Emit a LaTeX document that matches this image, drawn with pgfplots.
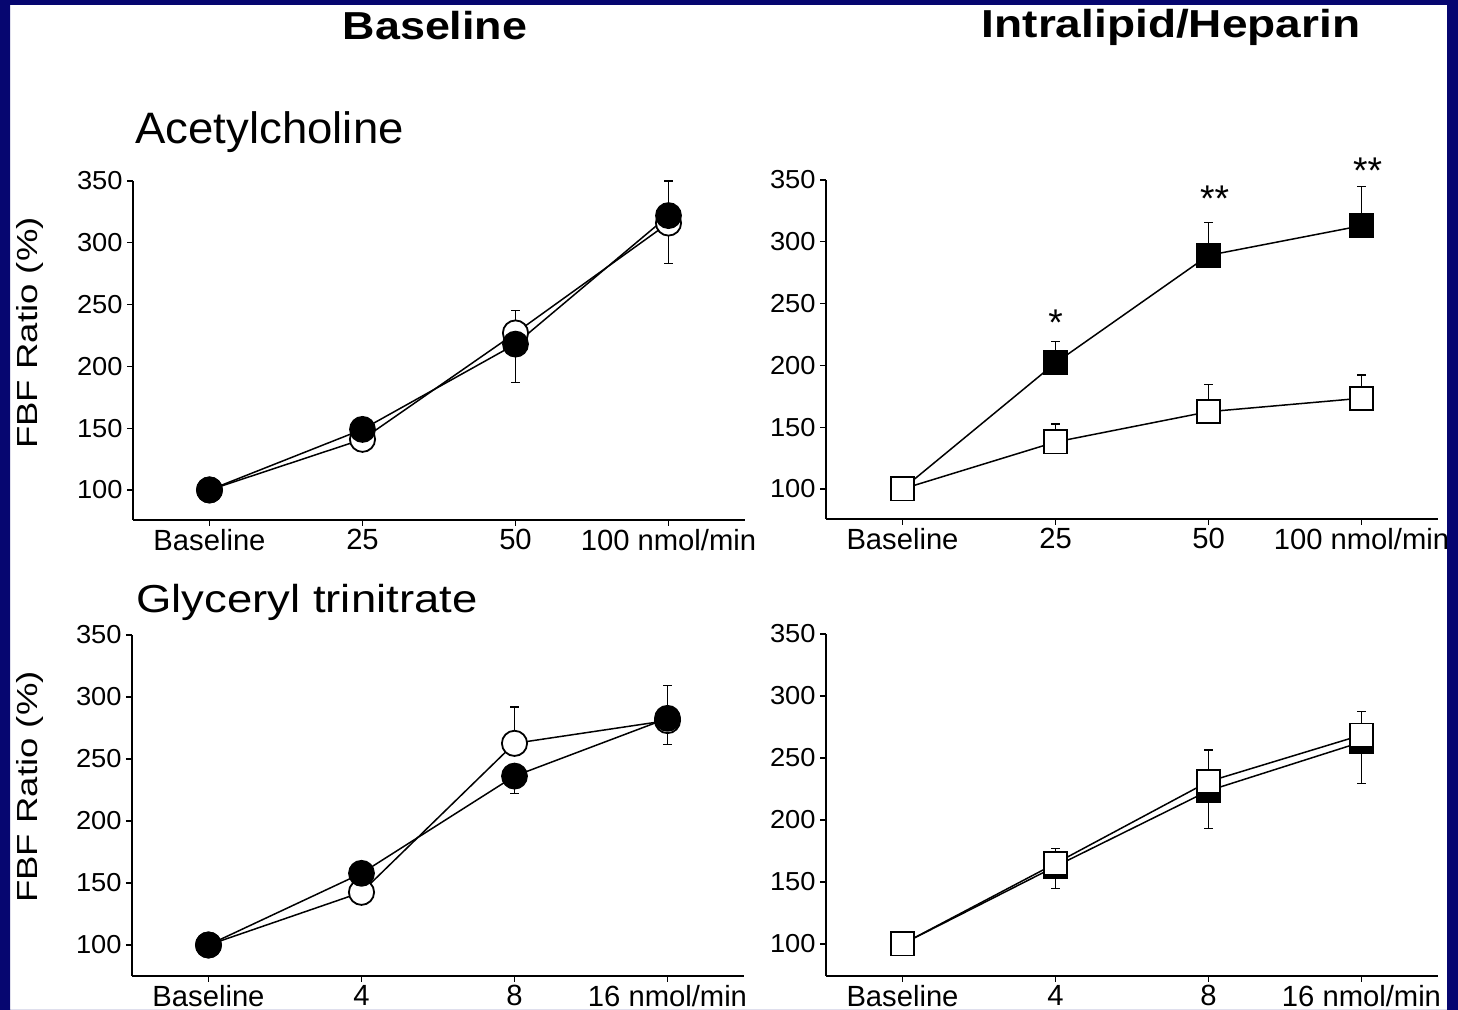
\documentclass[border=0pt]{standalone}
\usepackage{pgfplots}
\pgfplotsset{compat=1.18}
\usepackage{graphicx}
\usepackage{fontspec}
\setmainfont{Liberation Sans}
\definecolor{navy}{RGB}{6,6,112}
\newcommand\ys[1]{\scalebox{1.05}[1]{#1}}

\tikzset{starnode/.style={anchor=base, font=\fontsize{18.6}{20}\selectfont}}
\pgfplotsset{
  panel/.style={
    scale only axis, width=306pt,
    axis lines*=left,
    axis line style={line width=0.6pt, black},
    tick align=outside, major tick length=3pt,
    tick style={line width=0.6pt, black},
    xmin=-0.5, xmax=3.5, ymax=350,
    xtick={0,1,2,3},
    ytick={100,150,200,250,300,350},
    yticklabels={\ys{100},\ys{150},\ys{200},\ys{250},\ys{300},\ys{350}},
    yticklabel style={font=\fontsize{13}{14}\selectfont, inner sep=2pt},
    xticklabel style={font=\fontsize{14.6}{16}\selectfont, inner sep=1.5pt},
    clip=false,
  },
  ebar/.style={black, line width=0.6pt, only marks, mark=none, forget plot,
    error bars/.cd, y explicit, y dir=#1, error mark=-,
    error bar style={line width=0.6pt, black},
    error mark options={rotate=90, black, line width=0.6pt, mark size=2.2pt}},
  filledc/.style={black, line width=0.75pt, mark=*, mark size=6.3pt, mark options={fill=black, line width=0.8pt}},
  openc/.style={black, line width=0.75pt, mark=*, mark size=6.3pt, mark options={fill=white, line width=0.9pt}},
  filleds/.style={black, line width=0.75pt, mark=square*, mark size=5.8pt, mark options={fill=black, line width=0.8pt}},
  opens/.style={black, line width=0.75pt, mark=square*, mark size=5.8pt, mark options={fill=white, line width=0.9pt}},
}

\begin{document}
\begin{tikzpicture}
\fill[white] (0,0) rectangle (729pt,505pt);

% Top-left: Acetylcholine, Baseline
\begin{axis}[panel, at={(66.5pt,245pt)}, anchor=south west, height=169.5pt, ymin=75.7,
  xticklabels={Baseline,25,50,100 nmol/min}]
\addplot[ebar=plus] coordinates {(2,227) +- (0,18) (3,322) +- (0,28)};
\addplot[ebar=minus] coordinates {(2,218) +- (0,31) (3,316) +- (0,33)};
\addplot[openc] coordinates {(0,100) (1,141) (2,227) (3,316)};
\addplot[filledc] coordinates {(0,100) (1,149) (2,218) (3,322)};
\end{axis}

% Top-right: Acetylcholine, Intralipid/Heparin
\begin{axis}[panel, at={(413pt,245.5pt)}, anchor=south west, height=169.5pt, ymin=75.7,
  xticklabels={Baseline,25,50,100 nmol/min}]
\addplot[ebar=plus] coordinates {(1,202) +- (0,17.2) (2,289) +- (0,26.8) (3,313) +- (0,31.6)};
\addplot[ebar=plus] coordinates {(1,138) +- (0,14.6) (2,162.5) +- (0,22.2) (3,173.4) +- (0,18.8)};
\addplot[filleds] coordinates {(0,100) (1,202) (2,289) (3,313)};
\addplot[opens] coordinates {(0,100) (1,138) (2,162.5) (3,173.4)};
\node[starnode] at (axis cs:1,224) {*};
\node[starnode] at (axis cs:2.04,324.5) {**};
\node[starnode] at (axis cs:3.04,347.5) {**};
\end{axis}

% Bottom-left: Glyceryl trinitrate, Baseline
\begin{axis}[panel, at={(66pt,17pt)}, anchor=south west, height=170.5pt, ymin=75,
  xticklabels={Baseline,4,8,16 nmol/min}]
\addplot[ebar=plus] coordinates {(2,262.6) +- (0,29.4) (3,282.8) +- (0,26.2)};
\addplot[ebar=minus] coordinates {(2,236.2) +- (0,13.9) (3,281) +- (0,19)};
\addplot[openc] coordinates {(0,100) (1,142.5) (2,262.6) (3,281)};
\addplot[filledc] coordinates {(0,100) (1,157.8) (2,236.2) (3,282.8)};
\end{axis}

% Bottom-right: Glyceryl trinitrate, Intralipid/Heparin
\begin{axis}[panel, at={(413pt,17pt)}, anchor=south west, height=171pt, ymin=74.2,
  xticklabels={Baseline,4,8,16 nmol/min}]
\addplot[ebar=plus] coordinates {(1,165) +- (0,12) (2,231) +- (0,25.5) (3,268.5) +- (0,18.8)};
\addplot[ebar=minus] coordinates {(1,162.6) +- (0,17.6) (2,223.6) +- (0,30.3) (3,262.9) +- (0,33.3)};
\addplot[filleds] coordinates {(0,100) (1,162.6) (2,223.6) (3,262.9)};
\addplot[opens] coordinates {(0,100) (1,165) (2,231) (3,268.5)};
\end{axis}

% Titles and labels
\node[anchor=base, font=\bfseries\fontsize{19.5}{21}\selectfont] at (217.5pt,485pt) {\scalebox{1.15}[1]{Baseline}};
\node[anchor=base, font=\bfseries\fontsize{19.5}{21}\selectfont] at (585.5pt,486pt) {\scalebox{1.18}[1]{Intralipid/Heparin}};
\node[anchor=base west, inner sep=0pt, font=\fontsize{22}{24}\selectfont] at (67.5pt,433pt) {\scalebox{1.035}[1]{Acetylcholine}};
\node[anchor=base west, inner sep=0pt, font=\fontsize{19.5}{22}\selectfont] at (68pt,198.6pt) {\scalebox{1.166}[1]{Glyceryl trinitrate}};
\node[rotate=90, font=\fontsize{14.5}{16}\selectfont] at (15pt,338.5pt) {\scalebox{1.26}[1]{FBF Ratio (\%)}};
\node[rotate=90, font=\fontsize{14.5}{16}\selectfont] at (15pt,111.5pt) {\scalebox{1.26}[1]{FBF Ratio (\%)}};

% Frame
\fill[navy, even odd rule] (0,0) rectangle (729pt,505pt) (5pt,-1pt) rectangle (723.5pt,502.5pt);
\pgfresetboundingbox
\useasboundingbox (0,0) rectangle (729pt,505pt);
\end{tikzpicture}
\end{document}
